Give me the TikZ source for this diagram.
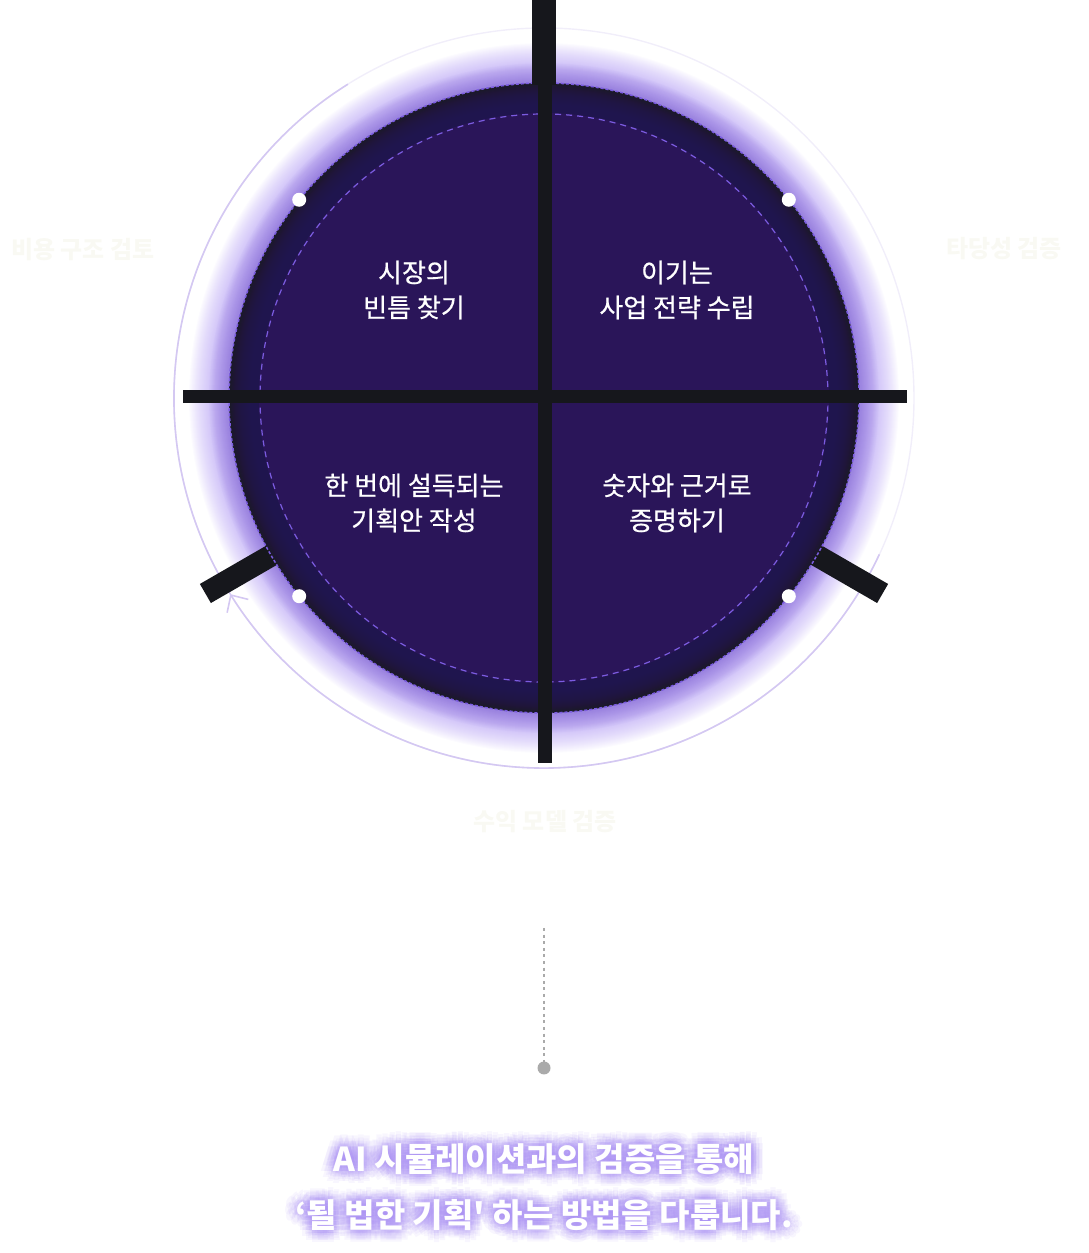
\documentclass[tikz,border=0pt]{standalone}
\usepackage{fontspec}
\setmainfont{Noto Sans CJK KR}[Ligatures=TeXOff]
\usetikzlibrary{arrows.meta,calc}

\definecolor{deep}{HTML}{2A1559}
\definecolor{rim}{HTML}{1A1A26}
\definecolor{glow}{HTML}{8C70DA}
\definecolor{halo}{HTML}{A68CF2}
\definecolor{barcol}{HTML}{16171C}
\definecolor{dashcol}{HTML}{7B5CE0}
\definecolor{ringcol}{HTML}{D4C8F2}
\definecolor{ringfaint}{HTML}{F1EEFA}
\definecolor{ghost}{HTML}{F9F9F3}
\definecolor{pingray}{HTML}{AAAAAA}

\tikzset{
  quad/.style={text=white, align=center, font=\addfontfeature{FakeBold=0.6}\fontsize{26}{35}\selectfont},
  ghostlabel/.style={text=ghost, font=\bfseries\fontsize{24}{28}\selectfont},
  msg/.style={text=white, font=\bfseries\fontsize{33}{38}\selectfont},
  msghalo/.style={text=halo, opacity=0.08, font=\bfseries\fontsize{33}{38}\selectfont},
  crossbar/.style={barcol, line width=13.4pt},
  spoke/.style={barcol, line width=22pt},
  ring/.style={ringcol, line width=1.6pt},
  dot/.style={circle, fill=white, minimum size=14pt, inner sep=0pt},
  pin/.style={circle, fill=pingray, minimum size=13pt, inner sep=0pt}
}

\begin{document}
\begin{tikzpicture}[x=1pt,y=1pt]
  \useasboundingbox (0,0) rectangle (1088,1253);
  \coordinate (c) at (544,855);

  % glow and outer ring
  \foreach \r in {355,354,...,317}
    \fill[halo, opacity=0.03] (c) circle[radius=\r];
  \foreach \r in {335,334,...,316}
    \fill[glow, opacity=0.045] (c) circle[radius=\r];
  \draw[ringfaint, line width=1.4pt] (c) circle[radius=370];
  \draw[ring] (c) ++(122:370) arc[start angle=122, end angle=212, radius=370];
  \draw[ring, -{Straight Barb[length=13pt, width=25pt]}] (c) ++(335:370) arc[start angle=335, end angle=212, radius=370];

  % side spokes
  \draw[spoke] (c) ++(210:298) -- ++(210:93);
  \draw[spoke] (c) ++(330:298) -- ++(330:93);

  % disc
  \fill[rim] (c) circle[radius=315];
  \foreach \r in {314,313,...,287}
    \fill[deep, opacity=0.09] (c) circle[radius=\r];
  \fill[deep] (c) circle[radius=285];
  \draw[dashcol, line width=1.5pt, dash pattern=on 3pt off 2pt] (c) circle[radius=315];
  \draw[dashcol, line width=1.2pt, dash pattern=on 6pt off 5pt] (c) circle[radius=284];

  % cross
  \fill[barcol] (532,1253) rectangle (556,1168);
  \draw[crossbar] (545,1253) -- (545,490);
  \draw[crossbar] (183,856.3) -- (907,856.3);

  \foreach \a in {39,141,219,321}
    \node[dot] at ($(c)+(\a:315)$) {};

  % quadrant labels
  \node[quad] (gap) at (414,963) {시장의\\빈틈 찾기};
  \node[quad] (plan) at (677,963) {이기는\\사업 전략 수립};
  \node[quad] (pitch) at (414,750) {한 번에 설득되는\\기획안 작성};
  \node[quad] (proof) at (677,750) {숫자와 근거로\\증명하기};

  % faint labels
  \node[ghostlabel] (cost) at (83,1003) {비용 구조 검토};
  \node[ghostlabel] (valid) at (1004,1004) {타당성 검증};
  \node[ghostlabel] (revenue) at (545,431) {수익 모델 검증};

  % drop line
  \coordinate (droptop) at (544,325);
  \node[pin] (pin) at (544,185) {};
  \draw[pingray, line width=2.6pt, dash pattern=on 3pt off 3.6pt] (droptop) -- (pin.center);

  % message
  \foreach \r in {3,6,9,12}
    \foreach \a in {0,30,...,330} {
      \node[msghalo] at ($(544,94)+(\a:\r)$) {AI 시뮬레이션과의 검증을 통해};
      \node[msghalo] at ($(544,38)+(\a:\r)$) {‘될 법한 기획' 하는 방법을 다룹니다.};
    }
  \node[msg] (lineA) at (544,94) {AI 시뮬레이션과의 검증을 통해};
  \node[msg] (lineB) at (544,38) {‘될 법한 기획' 하는 방법을 다룹니다.};
\end{tikzpicture}
\end{document}
